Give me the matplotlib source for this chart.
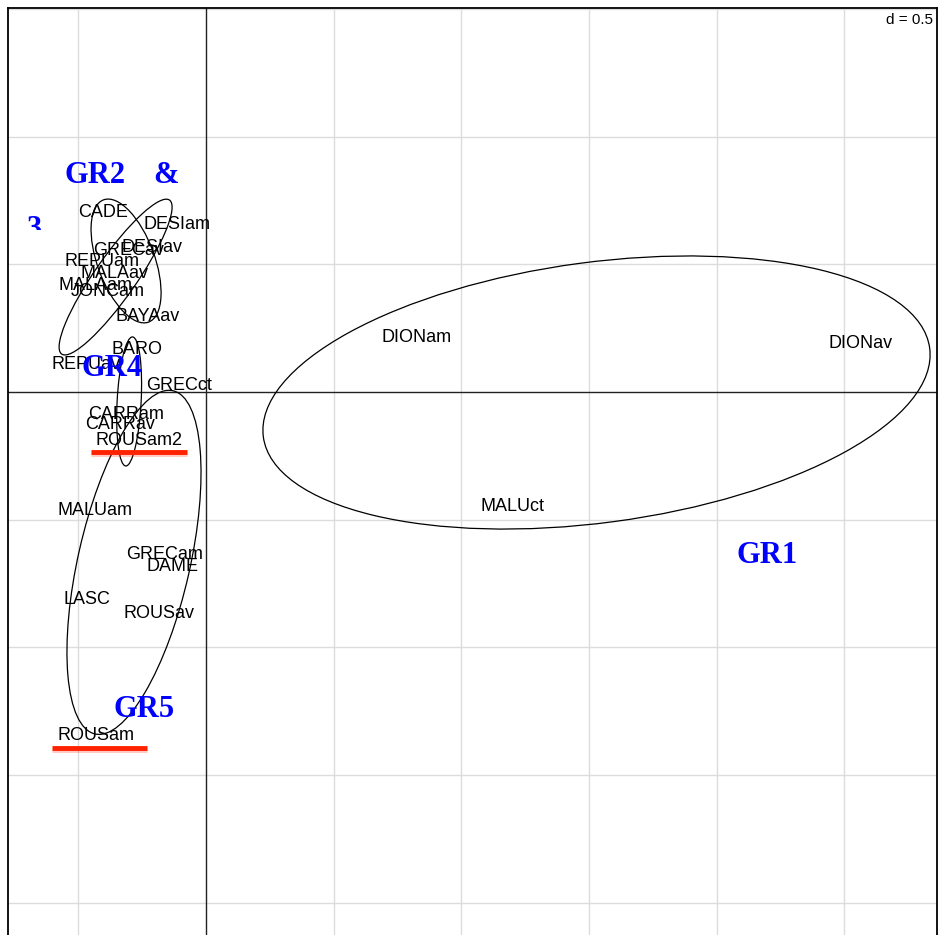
import matplotlib
matplotlib.use("Agg")
import matplotlib.pyplot as plt
import matplotlib.patheffects as pe
from matplotlib.patches import Ellipse
from matplotlib.transforms import Bbox, TransformedBbox
import numpy as np

# site labels and their coordinates (axis 1, axis 2)
site_names = ['CADE', 'DESIam', 'DESIav', 'GRECav', 'REPUam', 'MALAav', 'MALAam',
              'JONCam', 'BAYAav', 'BARO', 'REPUav', 'GRECct', 'CARRam', 'CARRav',
              'ROUSam2', 'MALUam', 'GRECam', 'DAME', 'LASC', 'ROUSav', 'ROUSam',
              'DIONam', 'MALUct', 'DIONav']
site_x = [-0.403, -0.114, -0.211, -0.305, -0.407, -0.360, -0.431, -0.384, -0.227,
          -0.270, -0.470, -0.106, -0.313, -0.337, -0.262, -0.435, -0.164, -0.133,
          -0.466, -0.184, -0.431, 0.826, 1.202, 2.561]
site_y = [0.709, 0.662, 0.572, 0.560, 0.517, 0.470, 0.423, 0.403, 0.305, 0.176,
          0.114, 0.035, -0.082, -0.121, -0.184, -0.458, -0.630, -0.677, -0.803,
          -0.861, -1.339, 0.223, -0.439, 0.196]

# class ellipses: centre, semi axes, angle (deg)
ell_cx = [1.529, -0.313, -0.354, -0.301, -0.282]
ell_cy = [-0.002, 0.513, 0.450, -0.037, -0.667]
ell_a = [1.316, 0.255, 0.368, 0.253, 0.689]
ell_b = [0.510, 0.112, 0.081, 0.047, 0.219]
ell_ang = [7.6, 110.2, 55.0, 87.0, 77.2]

# hand-added group names
grp_names = ['GR1', 'GR2', '&', 'GR4', 'GR5']
grp_x = [2.197, -0.435, -0.157, -0.368, -0.243]
grp_y = [-0.626, 0.861, 0.861, 0.106, -1.229]

# red underlines (x0, x1, y)
ul_x0 = [-0.450, -0.603]
ul_x1 = [-0.074, -0.231]
ul_y = [-0.235, -1.394]

xlim = (-0.7753, 2.8622)
ylim = (-2.1339, 1.5035)
d = 0.5

fig = plt.figure(figsize=(9.39, 9.35), dpi=100)
ax = fig.add_axes([8 / 939, -2 / 935, 929 / 939, 929 / 935])
ax.set_xlim(xlim)
ax.set_ylim(ylim)
ax.set_xticks([])
ax.set_yticks([])
for sp in ax.spines.values():
    sp.set_linewidth(1.3)
    sp.set_color('black')

# grid
for gx in np.arange(-d, xlim[1], d):
    if abs(gx) > 1e-9:
        ax.axvline(gx, color='#dcdcdc', lw=1.0, zorder=0)
for gy in np.arange(-4 * d, ylim[1], d):
    if abs(gy) > 1e-9:
        ax.axhline(gy, color='#dcdcdc', lw=1.0, zorder=0)
ax.axvline(0, color='#222222', lw=1.0, zorder=1)
ax.axhline(0, color='#222222', lw=1.0, zorder=1)

ax.text(0.9962, 0.9945, 'd = 0.5', transform=ax.transAxes, ha='right', va='top',
        fontsize=11, family='Liberation Sans',
        bbox=dict(facecolor='white', edgecolor='none', pad=1.5), zorder=5)

for cx, cy, a, b, ang in zip(ell_cx, ell_cy, ell_a, ell_b, ell_ang):
    ax.add_patch(Ellipse((cx, cy), 2 * a, 2 * b, angle=ang, fill=False,
                         edgecolor='black', lw=0.9, zorder=2))

for name, x, y in zip(site_names, site_x, site_y):
    ax.text(x, y, name, ha='center', va='center_baseline', fontsize=13,
            family='Liberation Sans', color='black', zorder=3)

for name, x, y in zip(grp_names, grp_x, grp_y):
    ax.text(x, y, name, ha='center', va='center_baseline', fontsize=22,
            family='Liberation Serif', fontweight='bold', color='#0000ff', zorder=4)

# the wrapped "3" of "GR2 & 3", its lower part is cut off
t3 = ax.text(-0.673, 0.650, '3', ha='center', va='center_baseline', fontsize=22,
             family='Liberation Serif', fontweight='bold', color='#0000ff', zorder=4)
t3.set_clip_box(TransformedBbox(Bbox([[-0.78, 0.636], [-0.55, 0.75]]), ax.transData))
t3.set_clip_on(True)

for x0, x1, y in zip(ul_x0, ul_x1, ul_y):
    ax.plot([x0, x1], [y, y], color='#ff2200', lw=3.5, solid_capstyle='butt', zorder=6,
            path_effects=[pe.SimpleLineShadow(offset=(0, -1.5), shadow_color='#ff2200',
                                              alpha=0.25), pe.Normal()])

fig.savefig('out.png', dpi=100)
